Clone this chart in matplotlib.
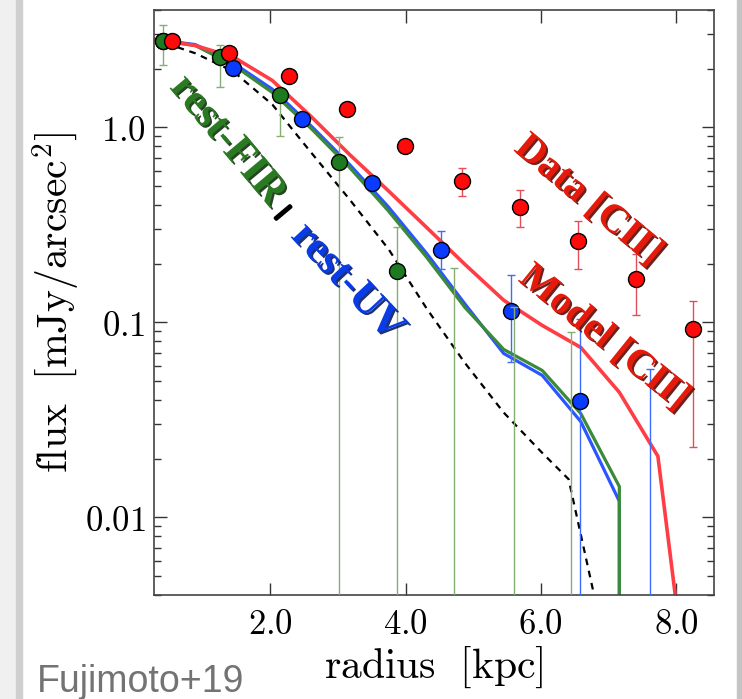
"""
Radial surface-brightness profiles: [CII] data/model vs rest-FIR and rest-UV.
Output: out.png
"""

import numpy as np
import matplotlib
matplotlib.use("Agg")
import matplotlib.pyplot as plt
import matplotlib.patheffects as pe
from matplotlib.patches import Rectangle
from matplotlib.ticker import LogLocator, NullFormatter

plt.rcParams["mathtext.fontset"] = "cm"

# ── stacked profile points (radius in kpc, flux in mJy/arcsec^2) ──
R_CII = [0.55, 1.39, 2.28, 3.13, 3.99, 4.83, 5.69, 6.55, 7.41, 8.25]
F_CII = [2.76, 2.40, 1.83, 1.24, 0.80, 0.53, 0.39, 0.26, 0.166, 0.093]
LO_CII = [2.70, 2.34, 1.78, 1.19, 0.75, 0.443, 0.307, 0.187, 0.109, 0.0229]
HI_CII = [2.82, 2.46, 1.88, 1.29, 0.85, 0.617, 0.475, 0.330, 0.223, 0.128]

# undetected bins sit below the plotted range (1e-5)
R_FIR = [0.415, 1.26, 2.15, 3.01, 3.87, 4.71, 5.60, 6.44]
F_FIR = [2.76, 2.29, 1.46, 0.662, 0.183, 1e-5, 1e-5, 1e-5]
LO_FIR = [2.10, 1.62, 0.90, 1e-5, 1e-5, 1e-5, 1e-5, 1e-5]
HI_FIR = [3.37, 2.66, 1.60, 0.889, 0.307, 0.191, 0.12, 0.089]

R_UV = [0.41, 1.45, 2.47, 3.50, 4.52, 5.56, 6.58, 7.61]
F_UV = [2.76, 2.01, 1.10, 0.516, 0.234, 0.115, 0.0394, 1e-5]
LO_UV = [2.70, 1.96, 1.05, 0.47, 0.187, 0.0624, 1e-5, 1e-5]
HI_UV = [2.82, 2.06, 1.15, 0.56, 0.293, 0.174, 0.104, 0.0574]

# ── model curves ──
R_MODEL = [0.28, 0.89, 1.46, 2.03, 2.60, 3.17, 3.74, 4.31, 4.88, 5.45,
           6.02, 6.59, 7.16, 7.73, 8.30]
MODEL_CII = [2.83, 2.63, 2.29, 1.74, 1.14, 0.727, 0.475, 0.307, 0.198, 0.130,
             0.0965, 0.0744, 0.0438, 0.0206, 0.00054]
MODEL_UV = [2.83, 2.66, 2.13, 1.57, 1.02, 0.646, 0.393, 0.226, 0.124, 0.0693,
            0.0535, 0.0310, 0.0121, 0.0, 0.0]
MODEL_FIR = [2.83, 2.63, 2.08, 1.51, 0.99, 0.624, 0.375, 0.216, 0.119, 0.0727,
             0.0567, 0.0341, 0.0144, 0.0, 0.0]

R_BEAM = [0.28, 0.89, 1.45, 2.03, 2.59, 3.17, 3.75, 4.31, 4.87, 5.45, 6.01,
          6.41, 6.89]
F_BEAM = [2.83, 2.40, 1.94, 1.31, 0.753, 0.428, 0.237, 0.118, 0.0624, 0.0345,
          0.0216, 0.0157, 0.00275]

X_TICKS = [2.0, 4.0, 6.0, 8.0]
Y_TICKS = [0.01, 0.1, 1.0]
Y_TICKLABELS = ["0.01", "0.1", "1.0"]

# ── colours ──
CLR_RED = "#ff0a0a"
CLR_RED_LINE = "#ff3d45"
CLR_RED_ERR = "#e0505a"
CLR_GREEN = "#1e7a1e"
CLR_GREEN_LINE = "#3a8a3a"
CLR_GREEN_ERR = "#86ad74"
CLR_BLUE = "#0a3cff"
CLR_BLUE_LINE = "#2a55ff"
CLR_BLUE_ERR = "#3a6cff"


def yerr(f, lo, hi):
    f = np.asarray(f)
    return [f - np.asarray(lo), np.asarray(hi) - f]


fig = plt.figure(figsize=(7.42, 6.99), dpi=100)
fig.patch.set_facecolor("white")
# grey frame strips at the edges of the slide
fig.patches.append(Rectangle((0, 0), 16 / 742, 1, transform=fig.transFigure,
                             color="#f0f0f0", zorder=-5))
fig.patches.append(Rectangle((16 / 742, 0), 6 / 742, 1,
                             transform=fig.transFigure, color="#cfcfcf",
                             zorder=-5))
fig.patches.append(Rectangle((737 / 742, 0), 5 / 742, 1,
                             transform=fig.transFigure, color="#c4c4c4",
                             zorder=-5))

ax = fig.add_axes([0.2075, 0.1488, 0.7548, 0.8369])
ax.set_yscale("log")

# model curves
ax.plot(R_BEAM, F_BEAM, color="k", lw=1.6, ls=(0, (3, 2.6)), zorder=2)
ax.plot(R_MODEL, MODEL_CII, color=CLR_RED_LINE, lw=2.6, zorder=2.2)
ax.plot(R_MODEL, MODEL_UV, color=CLR_BLUE_LINE, lw=2.3, zorder=2.1)
ax.plot(R_MODEL, MODEL_FIR, color=CLR_GREEN_LINE, lw=2.3, zorder=2.15)

# data points
pt = dict(fmt="o", ms=11.5, mec="k", mew=1.0, elinewidth=1.0, capsize=3,
          capthick=1.0)
ax.errorbar(R_UV, F_UV, yerr=yerr(F_UV, LO_UV, HI_UV), mfc=CLR_BLUE,
            ecolor=CLR_BLUE_ERR, zorder=3, **pt)
ax.errorbar(R_FIR, F_FIR, yerr=yerr(F_FIR, LO_FIR, HI_FIR), mfc=CLR_GREEN,
            ecolor=CLR_GREEN_ERR, zorder=3.1, **pt)
ax.errorbar(R_CII, F_CII, yerr=yerr(F_CII, LO_CII, HI_CII), mfc=CLR_RED,
            ecolor=CLR_RED_ERR, zorder=3.2, **pt)


# labels on the plot
def shadow(c):
    return [pe.withSimplePatchShadow(offset=(1.4, -1.4), shadow_rgbFace=c,
                                     alpha=0.9)]


txt = dict(fontfamily="Liberation Serif", fontweight="bold",
           ha="center", va="center", rotation_mode="anchor", zorder=6)
ax.text(1.36, 0.85, "rest-FIR", color="#2a7a22", fontsize=31, rotation=-50,
        path_effects=shadow("#0f300c"), **txt)
ax.text(2.19, 0.366, "|", color="k", fontsize=15, rotation=-50,
        path_effects=[pe.withStroke(linewidth=2.5, foreground="k")], **txt)
ax.text(3.13, 0.16, "rest-UV", color="#0a3ce6", fontsize=31, rotation=-47,
        path_effects=shadow("#061a66"), **txt)
ax.text(6.70, 0.42, "Data [CII]", color="#e61a0a", fontsize=29, rotation=-40,
        path_effects=shadow("#5a0a05"), **txt)
ax.text(6.93, 0.083, "Model [CII]", color="#e61a0a", fontsize=29,
        rotation=-39, path_effects=shadow("#5a0a05"), **txt)

# axes
ax.set_xlim(0.28, 8.56)
ax.set_ylim(0.004, 4.0)
ax.set_xticks(X_TICKS)
ax.set_xticklabels([r"$\mathrm{%.1f}$" % v for v in X_TICKS], fontsize=25)
ax.set_yticks(Y_TICKS)
ax.set_yticklabels([r"$\mathrm{%s}$" % s for s in Y_TICKLABELS], fontsize=25)
ax.yaxis.set_minor_locator(LogLocator(base=10, subs=np.arange(2, 10)))
ax.yaxis.set_minor_formatter(NullFormatter())
ax.tick_params(which="both", direction="in", top=True, right=True,
               color="#333333", width=1.0)
ax.tick_params(which="major", length=9)
ax.tick_params(which="minor", length=5)
ax.tick_params(axis="x", pad=9)
ax.tick_params(axis="y", pad=6)
for s in ax.spines.values():
    s.set_color("#444444")
    s.set_linewidth(1.2)

ax.set_xlabel(r"$\mathrm{radius}\ \ [\mathrm{kpc}]$", fontsize=30, labelpad=2)
ax.set_ylabel(r"$\mathrm{flux}\ \ [\mathrm{mJy}/\mathrm{arcsec}^2]$",
              fontsize=30, labelpad=2)

fig.text(37 / 742, 1 - 692 / 699, "Fujimoto+19", fontfamily="Liberation Sans",
         fontsize=27, color="#737373", ha="left", va="baseline")

fig.savefig("out.png", dpi=100)
plt.close(fig)
